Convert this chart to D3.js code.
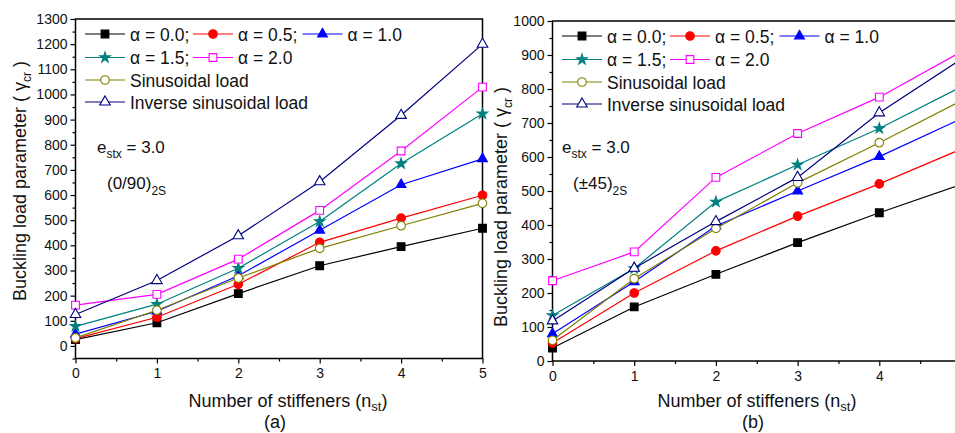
<!DOCTYPE html>
<html>
<head>
<meta charset="utf-8">
<script src="https://cdn.jsdelivr.net/npm/d3@7/dist/d3.min.js"></script>
<style>
  html, body { margin: 0; padding: 0; background: #fff; }
  svg { display: block; font-family: "Liberation Sans", Arial, sans-serif; }
</style>
</head>
<body>
<svg id="chart" width="955" height="433"></svg>
<script>
// Number of stiffeners
const nst = [0, 1, 2, 3, 4, 5];

// (0/90)2S laminate, buckling load parameter
const cpA00 = [25, 92, 208, 319, 395, 468];
const cpA05 = [29, 114, 245, 412, 508, 599];
const cpA10 = [47, 138, 279, 460, 641, 744];
const cpA15 = [78, 166, 309, 495, 725, 923];
const cpA20 = [162, 205, 345, 539, 775, 1029];
const cpSin = [32, 142, 270, 388, 478, 567];
const cpInv = [125, 260, 438, 653, 917, 1200];

// (±45)2S laminate, buckling load parameter
const apA00 = [38, 159, 255, 348, 436, 519];
const apA05 = [53, 200, 324, 426, 521, 623];
const apA10 = [80, 233, 397, 500, 601, 712];
const apA15 = [134, 272, 468, 577, 684, 806];
const apA20 = [236, 321, 540, 669, 776, 909];
const apSin = [61, 242, 390, 524, 642, 765];
const apInv = [118, 273, 410, 540, 730, 887];

// legend labels, in series order
const seriesLabels = ["α = 0.0;", "α = 0.5;", "α = 1.0", "α = 1.5;", "α = 2.0",
                      "Sinusoidal load", "Inverse sinusoidal load"];

// tick values
const xTicksLeft = [0, 1, 2, 3, 4, 5];
const xTicksRight = [0, 1, 2, 3, 4];
const yTicksLeft = d3.range(0, 1301, 100);
const yTicksRight = d3.range(0, 1001, 100);

const styles = [
  { color: "#000000", symbol: d3.symbolSquare,   size: 60, filled: true },
  { color: "#ff0000", symbol: d3.symbolCircle,   size: 58, filled: true },
  { color: "#0000ff", symbol: d3.symbolTriangle, size: 42, filled: true },
  { color: "#008080", symbol: d3.symbolStar,     size: 34, filled: true },
  { color: "#ff00ff", symbol: d3.symbolSquare,   size: 60, filled: false },
  { color: "#808000", symbol: d3.symbolCircle,   size: 58, filled: false },
  { color: "#000080", symbol: d3.symbolTriangle, size: 48, filled: false }
];

// legend layout: [series index, row, column]
const legendSlots = [[0,0,0],[1,0,1],[2,0,2],[3,1,0],[4,1,1],[5,2,0],[6,3,0]];
const legendCols = [9.5, 117.5, 227];
const legendRows = [15, 38.5, 61, 83];

const svg = d3.select("#chart");
svg.append("rect").attr("width", 955).attr("height", 433).attr("fill", "#fff");

function drawPanel(cfg) {
  const x = d3.scaleLinear().domain([0, 5]).range([cfg.x0, cfg.x1]);
  const y = d3.scaleLinear().domain(cfg.yDomain).range([cfg.yBottom, cfg.yTop]);
  const g = svg.append("g");

  // frame
  g.append("rect")
    .attr("x", cfg.x0).attr("y", cfg.yTop)
    .attr("width", cfg.x1 - cfg.x0).attr("height", cfg.yBottom - cfg.yTop)
    .attr("fill", "none").attr("stroke", "#000").attr("stroke-width", 1.5);

  // minor ticks
  const yMinor = d3.range(cfg.yDomain[0], cfg.yDomain[1] + 1, 50).filter(v => v % 100 !== 0);
  g.append("g").attr("transform", `translate(${cfg.x0},0)`)
    .call(d3.axisLeft(y).tickValues(yMinor).tickSize(3).tickFormat(""))
    .call(a => a.select(".domain").remove());
  g.append("g").attr("transform", `translate(0,${cfg.yBottom})`)
    .call(d3.axisBottom(x).tickValues(d3.range(0.5, 5, 1)).tickSize(3).tickFormat(""))
    .call(a => a.select(".domain").remove());

  // major ticks
  const ya = g.append("g").attr("transform", `translate(${cfg.x0},0)`)
    .call(d3.axisLeft(y).tickValues(cfg.yTicks).tickSize(5).tickPadding(3).tickFormat(d3.format("d")));
  ya.select(".domain").remove();
  ya.selectAll("text").attr("font-size", 14).attr("fill", "#111").attr("font-family", "Liberation Sans, Arial, sans-serif");

  const xa = g.append("g").attr("transform", `translate(0,${cfg.yBottom})`)
    .call(d3.axisBottom(x).tickValues(cfg.xTicks).tickSize(5).tickPadding(5).tickFormat(d3.format("d")));
  xa.select(".domain").remove();
  xa.selectAll("text").attr("font-size", 14).attr("fill", "#111").attr("font-family", "Liberation Sans, Arial, sans-serif");
  g.selectAll(".tick line").attr("stroke", "#000").attr("stroke-width", 1.2);

  // series
  const line = d3.line().x((d, i) => x(nst[i])).y(d => y(d));
  cfg.series.forEach((vals, si) => {
    const st = styles[si];
    g.append("path").datum(vals)
      .attr("d", line).attr("fill", "none")
      .attr("stroke", st.color).attr("stroke-width", 1.2);
    g.selectAll(null).data(vals).enter().append("path")
      .attr("transform", (d, i) => `translate(${x(nst[i])},${y(d)})`)
      .attr("d", d3.symbol().type(st.symbol).size(st.size))
      .attr("fill", st.filled ? st.color : "#fff")
      .attr("stroke", st.color).attr("stroke-width", 1.1);
  });

  // legend
  const lg = g.append("g");
  legendSlots.forEach(([si, r, c]) => {
    const st = styles[si];
    const lx = cfg.x0 + legendCols[c];
    const ly = cfg.yTop + legendRows[r];
    lg.append("line").attr("x1", lx).attr("x2", lx + 40).attr("y1", ly).attr("y2", ly)
      .attr("stroke", st.color).attr("stroke-width", 1.2);
    lg.append("path").attr("transform", `translate(${lx + 20},${ly})`)
      .attr("d", d3.symbol().type(st.symbol).size(st.size))
      .attr("fill", st.filled ? st.color : "#fff")
      .attr("stroke", st.color).attr("stroke-width", 1.1);
    lg.append("text").attr("x", lx + 45).attr("y", ly + 6.5)
      .attr("font-size", 17.5).attr("fill", "#111").text(seriesLabels[si]);
  });

  // annotations
  const e = g.append("text").attr("x", cfg.eX).attr("y", 153).attr("font-size", 17).attr("fill", "#111");
  e.append("tspan").text("e");
  e.append("tspan").attr("font-size", 12).attr("dy", 5).text("stx");
  e.append("tspan").attr("dy", -5).text(" = 3.0");

  const lam = g.append("text").attr("x", cfg.lamX).attr("y", 189).attr("font-size", 17).attr("fill", "#111");
  lam.append("tspan").text(cfg.layup);
  lam.append("tspan").attr("font-size", 12).attr("dy", 6).text("2S");

  // axis titles
  const xt = g.append("text").attr("x", cfg.xTitleX).attr("y", 407)
    .attr("text-anchor", "middle").attr("font-size", 18).attr("fill", "#111");
  xt.append("tspan").text("Number of stiffeners (n");
  xt.append("tspan").attr("font-size", 13).attr("dy", 4).text("st");
  xt.append("tspan").attr("dy", -4).text(")");

  g.append("text").attr("x", cfg.subX).attr("y", 428)
    .attr("text-anchor", "middle").attr("font-size", 18).attr("fill", "#111").text(cfg.sub);

  const yt = g.append("text")
    .attr("transform", `translate(${cfg.yTitleX},${cfg.yTitleY}) rotate(-90)`)
    .attr("text-anchor", "middle").attr("font-size", 18).attr("fill", "#111");
  yt.append("tspan").text("Buckling load parameter ( ");
  yt.append("tspan").text("γ");
  yt.append("tspan").attr("font-size", 12).attr("dy", 5).text("cr");
  yt.append("tspan").attr("dy", -5).text(" )");
}

drawPanel({
  x0: 75.5, x1: 482.5, yTop: 19, yBottom: 358.5, yDomain: [-50, 1300],
  yTicks: yTicksLeft, xTicks: xTicksLeft,
  series: [cpA00, cpA05, cpA10, cpA15, cpA20, cpSin, cpInv],
  eX: 97, lamX: 107, layup: "(0/90)",
  xTitleX: 288, subX: 275, sub: "(a)", yTitleX: 26, yTitleY: 181
});

drawPanel({
  x0: 552.5, x1: 961, yTop: 21, yBottom: 361, yDomain: [0, 1000],
  yTicks: yTicksRight, xTicks: xTicksRight,
  series: [apA00, apA05, apA10, apA15, apA20, apSin, apInv],
  eX: 562, lamX: 573, layup: "(±45)",
  xTitleX: 757, subX: 753, sub: "(b)", yTitleX: 507, yTitleY: 207
});
</script>
</body>
</html>
